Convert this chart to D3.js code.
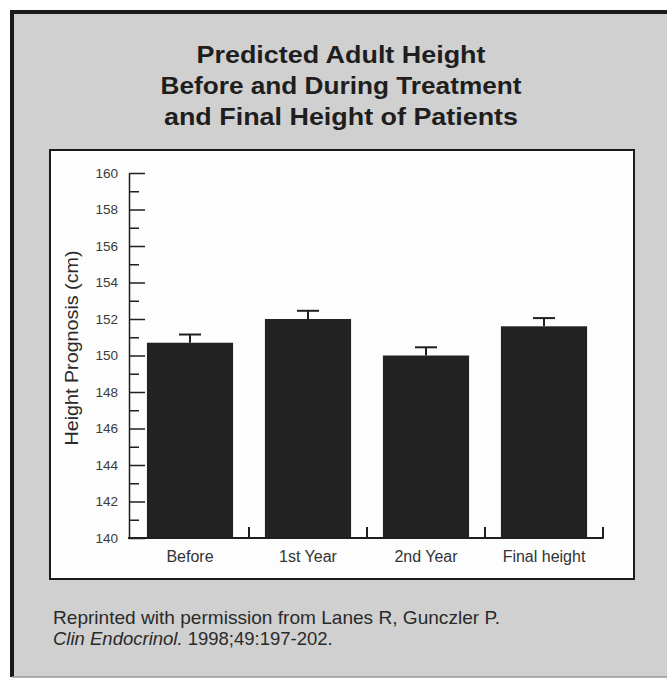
<!DOCTYPE html>
<html>
<head>
<meta charset="utf-8">
<script src="https://cdn.jsdelivr.net/npm/d3@7"></script>
<style>
    body { margin: 0; background: #fff; }
    text { font-family: "Liberation Sans", Arial, sans-serif; }
</style>
</head>
<body>
<svg id="chart"></svg>
<script>
// Chart data
const categories = ['Before', '1st Year', '2nd Year', 'Final height'];
const heights = [150.7, 152.0, 150.0, 151.6];
const errors = [0.45, 0.45, 0.45, 0.45];
const majorTicks = [140, 142, 144, 146, 148, 150, 152, 154, 156, 158, 160];
const minorTicks = [141, 143, 145, 147, 149, 151, 153, 155, 157, 159];
const titleLines = ['Predicted Adult Height', 'Before and During Treatment', 'and Final Height of Patients'];

const W = 667, H = 680;

const svg = d3.select('#chart')
    .attr('width', W)
    .attr('height', H);

// Gray panel with heavy frame (open to the right edge)
svg.append('rect')
    .attr('x', 12).attr('y', 12)
    .attr('width', W).attr('height', 665)
    .attr('fill', '#d0d0d0');
svg.append('path')
    .attr('d', `M${W},12 H12 V677`)
    .attr('fill', 'none')
    .attr('stroke', '#1a1a1a')
    .attr('stroke-width', 4);
svg.append('line')
    .attr('x1', 12).attr('x2', W)
    .attr('y1', 677).attr('y2', 677)
    .attr('stroke', '#9a9a9a')
    .attr('stroke-width', 1.5);

// Title (the print face is wider than Arial, so stretch each line)
const titleWidths = [289, 361, 354];
svg.append('g')
    .selectAll('text')
    .data(titleLines)
    .join('text')
    .attr('x', 341)
    .attr('y', (d, i) => 63 + i * 31)
    .attr('text-anchor', 'middle')
    .attr('font-size', 23)
    .attr('font-weight', 'bold')
    .attr('fill', '#1e1e1e')
    .attr('textLength', (d, i) => titleWidths[i])
    .attr('lengthAdjust', 'spacingAndGlyphs')
    .text(d => d);

// White plot box
svg.append('rect')
    .attr('x', 50).attr('y', 150)
    .attr('width', 584).attr('height', 429)
    .attr('fill', '#fdfdfd')
    .attr('stroke', '#1a1a1a')
    .attr('stroke-width', 2);

// Scales
const x = d3.scaleBand()
    .domain(categories)
    .range([131, 603])
    .paddingInner(0.27)
    .paddingOuter(0.135);

const y = d3.scaleLinear()
    .domain([140, 160])
    .range([538, 173]);

const ink = '#1f1f1f';

// Bars
svg.append('g')
    .selectAll('rect')
    .data(heights)
    .join('rect')
    .attr('x', (d, i) => x(categories[i]))
    .attr('y', d => y(d))
    .attr('width', x.bandwidth())
    .attr('height', d => y(140) - y(d))
    .attr('fill', '#222');

// Error bars (upper only)
const err = svg.append('g')
    .attr('stroke', ink)
    .attr('stroke-width', 2);
err.selectAll('.stem')
    .data(heights)
    .join('line')
    .attr('class', 'stem')
    .attr('x1', (d, i) => x(categories[i]) + x.bandwidth() / 2)
    .attr('x2', (d, i) => x(categories[i]) + x.bandwidth() / 2)
    .attr('y1', d => y(d))
    .attr('y2', (d, i) => y(d + errors[i]));
err.selectAll('.cap')
    .data(heights)
    .join('line')
    .attr('class', 'cap')
    .attr('x1', (d, i) => x(categories[i]) + x.bandwidth() / 2 - 11)
    .attr('x2', (d, i) => x(categories[i]) + x.bandwidth() / 2 + 11)
    .attr('y1', (d, i) => y(d + errors[i]))
    .attr('y2', (d, i) => y(d + errors[i]));

// Y axis: major ticks with labels, minor ticks without
const yAxis = svg.append('g')
    .attr('class', 'axis-y')
    .attr('transform', 'translate(129,0)')
    .call(d3.axisLeft(y).tickValues(majorTicks).tickSize(-16).tickPadding(11).tickSizeOuter(0));
yAxis.selectAll('text')
    .attr('font-size', 13.5)
    .attr('fill', '#3a3a3a');

const yMinor = svg.append('g')
    .attr('transform', 'translate(129,0)')
    .call(d3.axisLeft(y).tickValues(minorTicks).tickSize(-10).tickFormat(() => '').tickSizeOuter(0));
yMinor.select('.domain').remove();

svg.selectAll('.tick line, .domain')
    .attr('stroke', ink)
    .attr('stroke-width', 1.5);

// Y axis title
svg.append('text')
    .attr('transform', 'translate(78,348) rotate(-90)')
    .attr('text-anchor', 'middle')
    .attr('font-size', 17.5)
    .attr('fill', '#2a2a2a')
    .attr('textLength', 195)
    .attr('lengthAdjust', 'spacingAndGlyphs')
    .text('Height Prognosis (cm)');

// X axis: baseline, boundary ticks pointing up, category labels
const xStart = x.range()[0];
const boundaries = categories.map((c, i) => xStart + (i + 1) * x.step());

const xAxis = svg.append('g')
    .attr('class', 'axis-x')
    .attr('transform', 'translate(0,538)')
    .call(d3.axisBottom(x).tickSize(0).tickPadding(13));
xAxis.select('.domain')
    .attr('d', `M128,0H${boundaries[boundaries.length - 1] + 0.75}`)
    .attr('stroke', ink)
    .attr('stroke-width', 2);
xAxis.selectAll('text')
    .attr('font-size', 16)
    .attr('fill', '#333');

xAxis.selectAll('.bound')
    .data(boundaries)
    .join('line')
    .attr('class', 'bound')
    .attr('x1', d => d).attr('x2', d => d)
    .attr('y1', 0).attr('y2', -11)
    .attr('stroke', ink)
    .attr('stroke-width', 2);

// Source note
const note = svg.append('g')
    .attr('font-size', 18.5)
    .attr('fill', '#2a2a2a');
note.append('text')
    .attr('x', 53).attr('y', 624)
    .attr('textLength', 447)
    .attr('lengthAdjust', 'spacingAndGlyphs')
    .text('Reprinted with permission from Lanes R, Gunczler P.');
const ref = note.append('text')
    .attr('x', 53).attr('y', 645);
ref.append('tspan')
    .attr('font-style', 'italic')
    .text('Clin Endocrinol.');
ref.append('tspan')
    .text(' 1998;49:197-202.');
</script>
</body>
</html>
